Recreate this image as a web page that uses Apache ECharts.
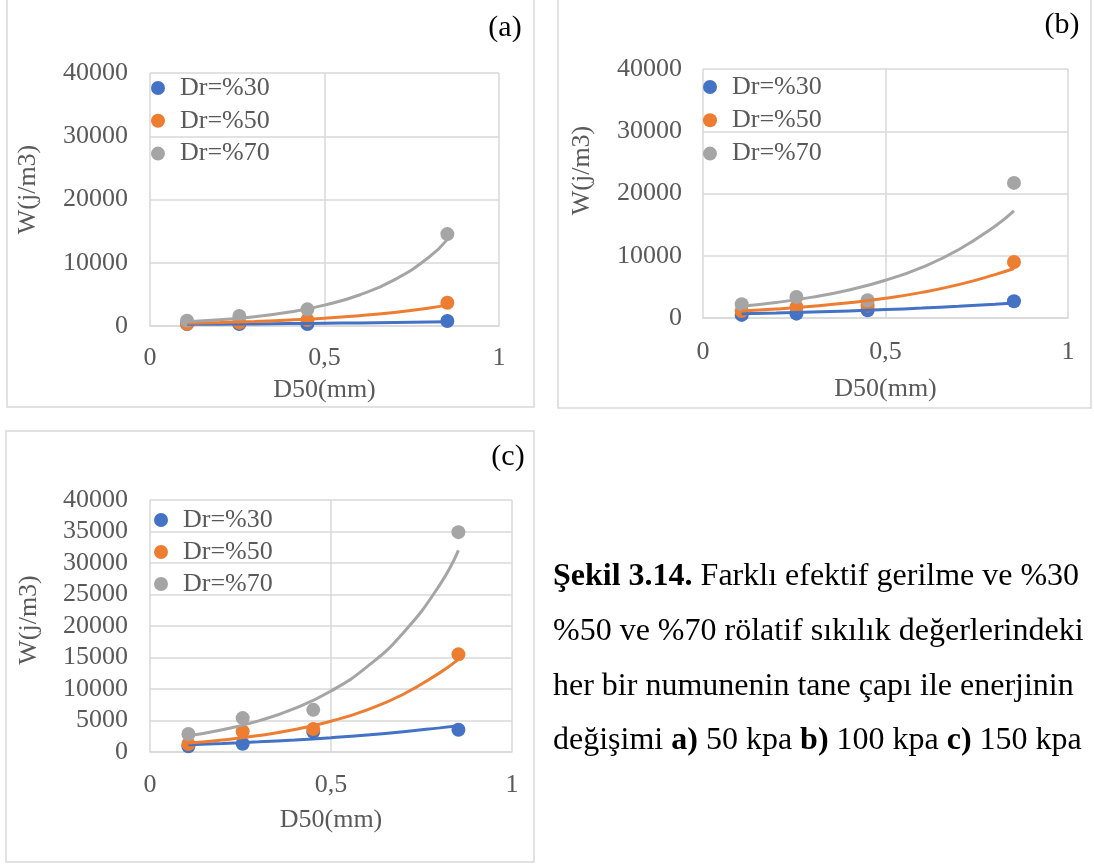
<!DOCTYPE html>
<html>
<head>
<meta charset="utf-8">
<script src="https://cdn.jsdelivr.net/npm/echarts@6/dist/echarts.min.js"></script>
<style>
html,body{margin:0;padding:0;background:#fff;}
#c{width:1094px;height:868px;}
</style>
</head>
<body>
<div id="c"></div>
<script>
// ---- data ----
const SERIES_NAMES = ['Dr=%30', 'Dr=%50', 'Dr=%70'];
const D50 = [0.106, 0.256, 0.451, 0.852];
// (a) 50 kPa
const A_W30 = [300, 300, 320, 790];
const A_W50 = [350, 530, 950, 3680];
const A_W70 = [840, 1580, 2630, 14530];
// (b) 100 kPa
const B_W30 = [500, 700, 1240, 2680];
const B_W50 = [1130, 1770, 2000, 9000];
const B_W70 = [2200, 3380, 2850, 21700];
// (c) 150 kPa
const C_W30 = [900, 1310, 3200, 3530];
const C_W50 = [1270, 3260, 3640, 15500];
const C_W70 = [2850, 5380, 6690, 34900];
// trendline readings
const TREND_X = [0.106, 0.2, 0.3, 0.4, 0.5, 0.6, 0.7, 0.8, 0.852];
const A_T30 = [260, 293, 334, 380, 433, 493, 561, 638, 680];
const A_T50 = [420, 545, 715, 940, 1240, 1630, 2150, 2830, 3300];
const A_T70 = [680, 990, 1480, 2200, 3300, 4900, 7300, 10900, 13700];
const B_T30 = [700, 820, 968, 1142, 1346, 1588, 1873, 2210, 2410];
const B_T50 = [1130, 1445, 1880, 2440, 3170, 4120, 5360, 6970, 7950];
const B_T70 = [1880, 2490, 3350, 4500, 6060, 8150, 10970, 14750, 17200];
const C_T30 = [1150, 1350, 1610, 1910, 2270, 2700, 3220, 3830, 4160];
const C_T50 = [1420, 1910, 2610, 3570, 4890, 6700, 9170, 12560, 14700];
const C_T70 = [2580, 3540, 4950, 6920, 9680, 13540, 18940, 26500, 32000];
// tick settings
const X_MIN = 0, X_MAX = 1, X_STEP = 0.5;
const Y_MAX = 40000;
const Y_STEPS = [10000, 10000, 5000];
const PANEL_LABELS = ['(a)', '(b)', '(c)'];
const X_NAME = 'D50(mm)';
const Y_NAME = 'W(j/m3)';
const CAPTION = [
  '{b|Şekil 3.14.} Farklı efektif gerilme ve %30',
  '%50 ve %70 rölatif sıkılık değerlerindeki',
  'her bir numunenin tane çapı ile enerjinin',
  'değişimi {b|a)} 50 kpa {b|b)} 100 kpa {b|c)} 150 kpa'
];

// ---- styling / layout ----
const FONT = 'Liberation Serif, Times New Roman, serif';
const FS = 26;
const COLORS = ['#4472C4', '#ED7D31', '#A5A5A5'];
const TXT = '#595959';
const GRIDC = '#D9D9D9';
const grids = [
  {left: 150, top: 73, width: 349, height: 253},
  {left: 703, top: 69, width: 365, height: 249},
  {left: 150, top: 500, width: 362, height: 252}
];
const xLabelMargin = [19, 21, 20];
const xNameGap = [51, 58, 55];
const yLabelMargin = [22, 21, 22];
const yNameGap = [109, 108, 108];
const yNameShift = [10, 23, 6];
const legendPos = [
  {left: 151, top: 75, gap: 6.8},
  {left: 703, top: 74, gap: 7.3},
  {left: 154, top: 507, gap: 6.0}
];

const chart = echarts.init(document.getElementById('c'), null, {renderer: 'canvas'});

const pts = (xs, ys) => xs.map((x, i) => [x, ys[i]]);
const panels = [
  {w: [A_W30, A_W50, A_W70], t: [A_T30, A_T50, A_T70]},
  {w: [B_W30, B_W50, B_W70], t: [B_T30, B_T50, B_T70]},
  {w: [C_W30, C_W50, C_W70], t: [C_T30, C_T50, C_T70]}
];

const xAxis = [], yAxis = [], series = [], legend = [];
panels.forEach((p, k) => {
  xAxis.push({
    type: 'value', gridIndex: k, min: X_MIN, max: X_MAX, interval: X_STEP,
    name: X_NAME, nameLocation: 'middle', nameGap: xNameGap[k],
    nameTextStyle: {color: TXT, fontSize: FS, fontFamily: FONT},
    axisLine: {show: true, lineStyle: {color: GRIDC, width: 1.5}},
    axisTick: {show: false},
    axisLabel: {color: TXT, fontSize: FS, fontFamily: FONT, margin: xLabelMargin[k],
      formatter: v => String(v).replace('.', ',')},
    splitLine: {show: true, lineStyle: {color: GRIDC, width: 1.5}}
  });
  yAxis.push({
    type: 'value', gridIndex: k, min: 0, max: Y_MAX, interval: Y_STEPS[k],
    name: Y_NAME, nameLocation: 'middle', nameGap: yNameGap[k],
    nameTextStyle: {color: TXT, fontSize: FS, fontFamily: FONT, padding: [0, 0, 0, yNameShift[k] * 2]},
    axisLine: {show: false},
    axisTick: {show: false},
    axisLabel: {color: TXT, fontSize: FS, fontFamily: FONT, margin: yLabelMargin[k],
      formatter: v => String(v)},
    splitLine: {show: true, lineStyle: {color: GRIDC, width: 1.5}}
  });
  p.w.forEach((ys, s) => {
    series.push({
      name: SERIES_NAMES[s], type: 'scatter', xAxisIndex: k, yAxisIndex: k,
      symbol: 'circle', symbolSize: 14, z: 2 + s * 0.1,
      itemStyle: {color: COLORS[s], opacity: 1},
      data: pts(D50, ys)
    });
  });
  p.t.forEach((ys, s) => {
    series.push({
      name: SERIES_NAMES[s] + ' trend', type: 'line', xAxisIndex: k, yAxisIndex: k,
      smooth: true, symbol: 'none', showSymbol: false, z: 3 + s * 0.1,
      lineStyle: {color: COLORS[s], width: 3},
      itemStyle: {color: COLORS[s]},
      data: pts(TREND_X, ys)
    });
  });
  legend.push({
    data: SERIES_NAMES, orient: 'vertical', left: legendPos[k].left, top: legendPos[k].top,
    itemGap: legendPos[k].gap, itemWidth: 34, itemHeight: 14, icon: 'circle', padding: 0,
    selectedMode: false,
    textStyle: {color: TXT, fontSize: FS, fontFamily: FONT, lineHeight: 24}
  });
});

const graphic = [
  {type: 'rect', shape: {x: 7, y: -1, width: 527, height: 408}, style: {fill: 'none', stroke: GRIDC, lineWidth: 1.5}, z: -10},
  {type: 'rect', shape: {x: 558, y: -1, width: 533, height: 409}, style: {fill: 'none', stroke: GRIDC, lineWidth: 1.5}, z: -10},
  {type: 'rect', shape: {x: 6, y: 431, width: 528, height: 431}, style: {fill: 'none', stroke: GRIDC, lineWidth: 1.5}, z: -10}
];
const labelPos = [[505, 28], [1062, 25], [508, 457]];
PANEL_LABELS.forEach((t, i) => {
  graphic.push({type: 'text', x: labelPos[i][0], y: labelPos[i][1],
    style: {text: t, fill: '#000', font: '30px ' + FONT, align: 'center', verticalAlign: 'middle'}});
});
const capY = [577, 632, 687, 741];
CAPTION.forEach((t, i) => {
  graphic.push({type: 'text', x: 553, y: capY[i],
    style: {text: t, fill: '#000', fontSize: 32, fontFamily: FONT, align: 'left', verticalAlign: 'middle',
      rich: {b: {fontWeight: 'bold', fontSize: 32, fontFamily: FONT, fill: '#000'}}}});
});

chart.setOption({
  animation: false,
  backgroundColor: '#fff',
  grid: grids,
  xAxis, yAxis, series, legend, graphic
});
</script>
</body>
</html>
